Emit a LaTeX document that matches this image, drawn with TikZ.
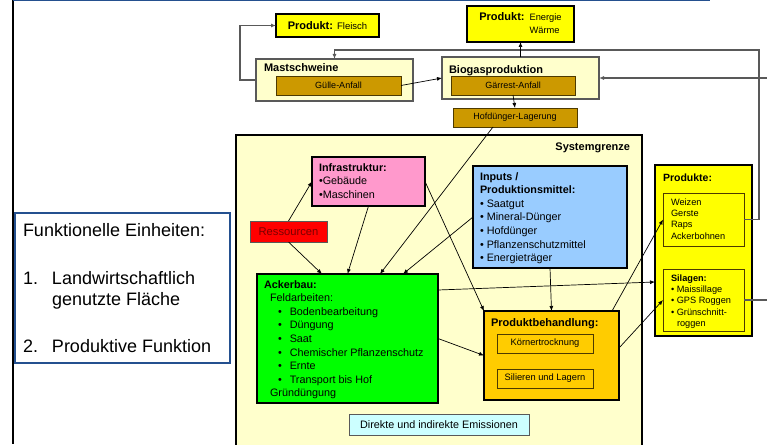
\documentclass[tikz,border=0pt]{standalone}
\usepackage{fontspec}
\setmainfont{Liberation Sans}
\usetikzlibrary{arrows.meta, positioning, calc}

\definecolor{hellgelb}{HTML}{FFFFCC}
\definecolor{gelb}{HTML}{FFFF00}
\definecolor{ocker}{HTML}{CC9900}
\definecolor{rosa}{HTML}{FF99CC}
\definecolor{rot}{HTML}{FF0000}
\definecolor{dunkelrot}{HTML}{7A0000}
\definecolor{hellblau}{HTML}{99CCFF}
\definecolor{gruen}{HTML}{00FF00}
\definecolor{gold}{HTML}{FFCC00}
\definecolor{eis}{HTML}{CCFFFF}
\definecolor{rahmenblau}{HTML}{24508F}
\definecolor{grau}{HTML}{595959}
\definecolor{braunrand}{HTML}{4D3A00}

\newcommand{\zeilen}[1]{\begin{tabular}[t]{@{}l@{}}#1\end{tabular}}
\newcommand{\pkt}{\hspace*{14pt}\textbullet\hspace{8pt}}

\begin{document}
\begin{tikzpicture}[x=1pt, y=-1pt,
  every node/.style={inner sep=0pt, outer sep=0pt},
  groesse/.style 2 args={minimum width=#1, minimum height=#2},
  produkt/.style={draw=black, line width=1.6pt, fill=gelb, font=\fontsize{11}{13}\selectfont},
  stall/.style={draw=grau, line width=1.2pt, fill=hellgelb},
  anfall/.style={draw=braunrand, line width=0.8pt, fill=ocker, font=\fontsize{9}{11}\selectfont},
  kasten/.style={draw=black, line width=1.6pt},
  titel/.style={anchor=base west, font=\fontsize{11}{13}\selectfont\bfseries},
  inhalt/.style={anchor=base west, align=left, font=\fontsize{10.8}{13.6}\selectfont},
  klein/.style={anchor=base west, align=left, font=\fontsize{9.2}{11.2}\selectfont},
  pfeil/.style={line width=0.7pt, -{Latex[length=5pt, width=4pt]}},
  rueck/.style={draw=grau, line width=1.1pt, -{Latex[length=5pt, width=4pt]}},
]
  \clip (0,0) rectangle (767,444);

  % Rand links und oben
  \draw[line width=2.5pt] (13,0) -- (13,444);
  \draw[rahmenblau, line width=2pt] (13,0.5) -- (710,0.5);

  % Produkte oben
  \node[produkt, groesse={103pt}{23pt}] (fleisch) at (327.5,25.5)
    {\textbf{Produkt:} {\fontsize{9.5}{11}\selectfont Fleisch}};
  \node[produkt, groesse={107pt}{36pt}] (energie) at (520.5,24)
    {\begin{tabular}{@{}l@{\hspace{5pt}}l@{}}
      \textbf{Produkt:} & {\fontsize{9.3}{13}\selectfont Energie}\\
      & {\fontsize{9.3}{13}\selectfont Wärme}
    \end{tabular}};

  % Tierhaltung und Biogas
  \node[stall, groesse={157pt}{42pt}] (mast) at (334.5,80) {};
  \node[titel] (mastT) at (264,71) {Mastschweine};
  \node[anfall, groesse={125pt}{19pt}] (guelle) at (338.5,85.5) {Gülle-Anfall};

  \node[stall, groesse={157pt}{42pt}] (biogas) at (520.5,78) {};
  \node[titel] (biogasT) at (449,73) {Biogasproduktion};
  \node[anfall, groesse={124pt}{19pt}] (gaerrest) at (513,85.5) {Gärrest-Anfall};

  \node[anfall, groesse={124pt}{19pt}] (hofd) at (515,117.5) {Hofdünger-Lagerung};

  % Systemgrenze
  \node[kasten, fill=hellgelb, groesse={406pt}{320pt}] (system) at (439,295) {};
  \node[titel, anchor=base east] (systemT) at (630,150) {Systemgrenze};

  \node[kasten, fill=rosa, groesse={113pt}{49pt}] (infra) at (368.5,181.5) {};
  \node[inhalt] (infraT) at (319,171)
    {\zeilen{\textbf{Infrastruktur:}\\\textbullet Gebäude\\\textbullet Maschinen}};

  \node[draw=grau, line width=0.8pt, fill=rot, text=dunkelrot, groesse={77pt}{21pt},
    font=\fontsize{11.2}{13}\selectfont] (ress) at (288.5,231.5) {Ressourcen};

  \node[kasten, fill=hellblau, groesse={154pt}{102pt}] (inputs) at (550,217) {};
  \node[inhalt] (inputsT) at (480,180)
    {\zeilen{\textbf{Inputs /}\\\textbf{Produktionsmittel:}\\\textbullet{} Saatgut\\
     \textbullet{} Mineral-Dünger\\\textbullet{} Hofdünger\\
     \textbullet{} Pflanzenschutzmittel\\\textbullet{} Energieträger}};

  \node[kasten, fill=gruen, groesse={181pt}{129pt}] (acker) at (347.5,338.5) {};
  \node[inhalt] (ackerT) at (264,288)
    {\zeilen{\textbf{Ackerbau:}\\\hspace*{6pt}Feldarbeiten:\\
     \pkt Bodenbearbeitung\\\pkt Düngung\\\pkt Saat\\
     \pkt Chemischer Pflanzenschutz\\\pkt Ernte\\\pkt Transport bis Hof\\
     \hspace*{6pt}Gründüngung}};

  \node[kasten, fill=gold, groesse={135pt}{89pt}] (prodb) at (551.5,355.5) {};
  \node[titel] (prodbT) at (491,326) {Produktbehandlung:};
  \node[draw=braunrand, line width=0.8pt, fill=gold, groesse={96pt}{19pt},
    font=\fontsize{9.3}{11}\selectfont] (koern) at (545,343.5) {Körnertrocknung};
  \node[draw=braunrand, line width=0.8pt, fill=gold, groesse={96pt}{19pt},
    font=\fontsize{9.3}{11}\selectfont] (silier) at (545,378.5) {Silieren und Lagern};

  \node[draw=grau, line width=0.8pt, fill=eis, groesse={180pt}{21pt},
    font=\fontsize{10.8}{13}\selectfont] (emiss) at (439,424.5) {Direkte und indirekte Emissionen};

  % Produkte rechts
  \node[kasten, fill=gelb, groesse={97pt}{171pt}] (produkte) at (703.5,250.5) {};
  \node[titel, font=\fontsize{10.5}{13}\selectfont\bfseries] (produkteT) at (663,181) {Produkte:};
  \node[draw=braunrand, line width=1pt, groesse={81pt}{53pt}] (weizen) at (703.5,219.5) {};
  \node[klein] (weizenT) at (671,205.5) {\zeilen{Weizen\\Gerste\\Raps\\Ackerbohnen}};
  \node[draw=braunrand, line width=1pt, groesse={81pt}{62pt}] (silagen) at (703.5,300) {};
  \node[klein] (silagenT) at (671,281.5)
    {\zeilen{\textbf{Silagen:}\\\textbullet{} Maissillage\\\textbullet{} GPS Roggen\\
     \textbullet{} Grünschnitt-\\\hspace*{6pt}roggen}};

  % Funktionelle Einheiten
  \node[draw=rahmenblau, line width=2pt, fill=white, groesse={215pt}{150pt}] (fe) at (122.5,288) {};
  \node[anchor=base west, font=\fontsize{18}{21}\selectfont] (feT) at (23,236)
    {\begin{tabular}[t]{@{}p{29pt}@{}l@{}}
      \multicolumn{2}{@{}l@{}}{Funktionelle Einheiten:}\\[27pt]
      1. & Landwirtschaftlich\\
         & genutzte Fläche\\[26pt]
      2. & Produktive Funktion
    \end{tabular}};

  % Stoffstroeme oben
  \draw[rueck] (mast.west) -- ++(-16pt,0) |- (fleisch.west);
  \draw[rueck] (weizen.east) -- ++(15pt,0) |- ([yshift=9pt]mast.north) -- (mast.north);
  \draw[rueck] (silagen.east) -- ++(30pt,0) |- (biogas.east);
  \draw[pfeil] (guelle.east) -- (biogas.west);
  \draw[pfeil] (biogas.north) -- (energie.south);
  \draw[pfeil] (gaerrest.south) -- (hofd.north);

  % Stoffstroeme im System
  \draw[pfeil] (ress.north) -- (infra.west);
  \draw[pfeil] (ress.south) -- ([xshift=-25.5pt]acker.north);
  \draw[pfeil] (infra.south) -- (acker.north);
  \draw[pfeil] ([xshift=-22pt]hofd.south) -- ([xshift=32.5pt]acker.north);
  \draw[pfeil] (inputs.west) -- ([xshift=55.5pt]acker.north);
  \draw[pfeil] (infra.east) -- (prodb.north west);
  \draw[pfeil] (inputs.south) -- (prodb.north);
  \draw[pfeil] (acker.east) -- (prodb.west);
  \draw[pfeil] ([yshift=48.5pt]acker.east) -- ([yshift=-31.5pt]produkte.west);
  \draw[pfeil] ([xshift=60.5pt]prodb.north) -- (weizen.west);
  \draw[pfeil] ([yshift=7.5pt]prodb.east) -- (silagen.west);
\end{tikzpicture}
\end{document}
